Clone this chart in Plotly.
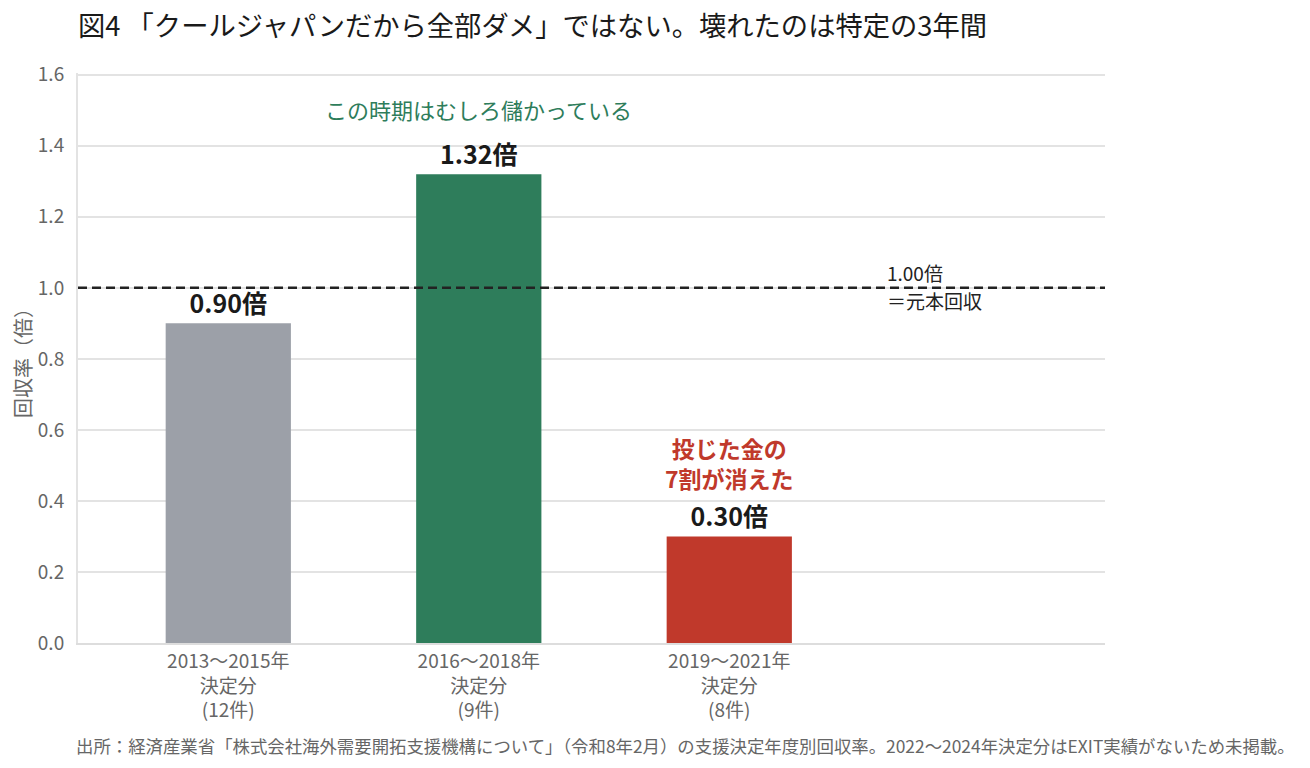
import plotly.graph_objects as go

periods = ["2013〜2015年<br>決定分<br>(12件)", "2016〜2018年<br>決定分<br>(9件)", "2019〜2021年<br>決定分<br>(8件)"]
recovery = [0.90, 1.32, 0.30]
value_labels = ["<b>0.90倍</b>", "<b>1.32倍</b>", "<b>0.30倍</b>"]
bar_colors = ["#9CA0A8", "#2E7D5B", "#C0392B"]
breakeven = 1.0

FONT = "Noto Sans CJK JP"
W, H = 1294, 752
xpos = list(range(len(periods)))

fig = go.Figure()
fig.add_trace(go.Bar(
    x=xpos, y=recovery, width=0.5,
    marker=dict(color=bar_colors, line=dict(width=0)),
    text=value_labels, textposition="outside", cliponaxis=False,
    textfont=dict(family=FONT, size=25, color="#1a1a1a"),
    hoverinfo="skip",
))

# breakeven line
fig.add_shape(type="line", xref="paper", yref="y", x0=0, x1=1, y0=breakeven, y1=breakeven,
              line=dict(color="#222", width=2.5, dash="9px,5px"))
fig.add_annotation(x=2.62, y=1.043, xref="x", yref="y", text="1.00倍", showarrow=False,
                   xanchor="left", yanchor="middle",
                   font=dict(family=FONT, size=19, color="#222"))
fig.add_annotation(x=2.62, y=0.965, xref="x", yref="y", text="＝元本回収", showarrow=False,
                   xanchor="left", yanchor="middle",
                   font=dict(family=FONT, size=19, color="#222"))

fig.add_annotation(x=1, y=1.505, xref="x", yref="y", text="この時期はむしろ儲かっている", showarrow=False,
                   font=dict(family=FONT, size=22, color="#2E7D5B"))
fig.add_annotation(x=2, y=0.507, xref="x", yref="y", text="<b>投じた金の<br>7割が消えた</b>", showarrow=False,
                   font=dict(family=FONT, size=23, color="#C0392B"))

fig.update_layout(
    width=W, height=H,
    margin=dict(l=70, r=197, t=65, b=117),
    paper_bgcolor="white", plot_bgcolor="white",
    showlegend=False,
    font=dict(family=FONT),
    title=dict(text="図4 「クールジャパンだから全部ダメ」ではない。壊れたのは特定の3年間",
               x=70 / W, xanchor="left", y=1 - 18 / H, yanchor="middle",
               font=dict(family=FONT, size=27.3, color="#1a1a1a")),
    xaxis=dict(range=[-0.6, 3.5], tickvals=xpos, ticktext=periods,
               showgrid=False, showline=True, linecolor="#dddddd", linewidth=2,
               ticks="", tickfont=dict(family=FONT, size=19, color="#666"),
               automargin=False),
    yaxis=dict(range=[0, 1.605], tickvals=[0, 0.2, 0.4, 0.6, 0.8, 1.0, 1.2, 1.4, 1.6],
               tickformat=".1f", showgrid=True, gridcolor="#e3e3e3", gridwidth=2,
               showline=True, linecolor="#e3e3e3", linewidth=2, zeroline=False,
               ticks="", ticklabelstandoff=8, automargin=False,
               tickfont=dict(family=FONT, size=19, color="#666"),
               title=dict(text="回収率（倍）", standoff=8,
                          font=dict(family=FONT, size=20, color="#666"))),
)

fig.add_annotation(x=-0.004, y=(635 - 737) / 570, xref="paper", yref="paper", xanchor="left", yanchor="middle",
                   showarrow=False,
                   text="出所：経済産業省「株式会社海外需要開拓支援機構について」（令和8年2月）の支援決定年度別回収率。2022〜2024年決定分はEXIT実績がないため未掲載。",
                   font=dict(family=FONT, size=17.4, color="#666"))

fig.write_html("out.html")
